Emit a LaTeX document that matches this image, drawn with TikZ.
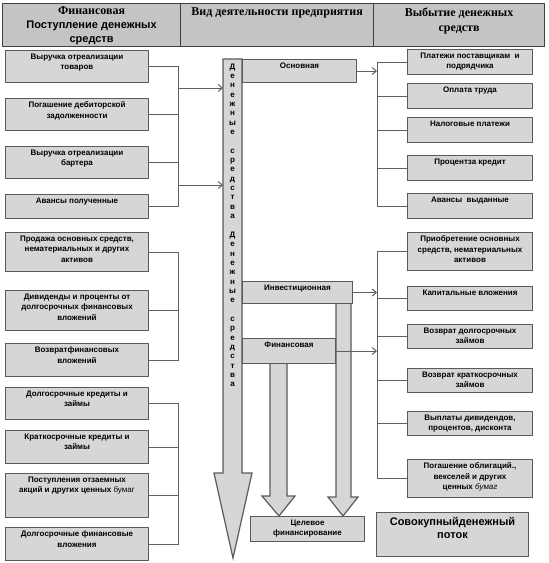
\documentclass[tikz,border=0pt]{standalone}
\usepackage{fontspec}
\setmainfont{Liberation Sans}
\newfontfamily\hdserif{Liberation Serif}
\usetikzlibrary{arrows.meta}
\definecolor{boxfill}{HTML}{D6D6D6}
\definecolor{headfill}{HTML}{C4C4C4}
\definecolor{boxline}{HTML}{5A5A5A}
\definecolor{linkgray}{HTML}{606060}
\newcommand{\boxtext}[3]{\parbox[c][#2][t]{#1}{\centering\vspace*{3.5pt}#3\par}}
\tikzset{flow box/.style={draw=boxline,fill=boxfill,line width=1pt,inner sep=0pt,anchor=north west,font=\fontsize{8}{10.3}\selectfont\bfseries},head cell/.style={flow box,fill=headfill,draw=black!75,line width=1.2pt,font=\fontsize{12}{14.5}\selectfont\bfseries},total box/.style={flow box,font=\fontsize{11}{13}\selectfont\bfseries},link/.style={draw=linkgray,line width=1pt},feed/.style={link,-{Straight Barb[length=4pt,width=7pt]}},band/.style={draw=boxline,fill=boxfill,line width=1.2pt,line join=miter},letter/.style={anchor=base,inner sep=0pt,font=\fontsize{8}{8}\selectfont\bfseries}}

\begin{document}
\begin{tikzpicture}[x=1pt,y=-1pt]
 \useasboundingbox (0,0) rectangle (549,563);

 % header row
 \node[head cell] (hin) at (2,3) {\boxtext{178pt}{43pt}{{\hdserif Финансовая}\\{\fontsize{11}{13.5}\selectfont Поступление денежных\\средств}}};
 \node[head cell] (hkind) at (180,3) {\boxtext{193pt}{43pt}{\vspace*{1pt}\hdserif Вид деятельности предприятия}};
 \node[head cell] (hout) at (373,3) {\boxtext{171pt}{43pt}{\vspace*{1pt}\hdserif Выбытие денежных\\средств}};

 % wide arrows of the middle column
 \draw[band] (223,59) -- (242,59) -- (242,473) -- (252,473) -- (233,558) -- (214,473) -- (223,473) -- cycle;
 \draw[band] (336,303) -- (351,303) -- (351,497) -- (358,497) -- (343,516) -- (328,497) -- (336,497) -- cycle;
 \draw[band] (270,363) -- (287,363) -- (287,496) -- (295,496) -- (279,516) -- (262,496) -- (270,496) -- cycle;
 \foreach \ch [count=\i] in {Д,е,н,е,ж,н,ы,е,{},с,р,е,д,с,т,в,а,{},Д,е,н,е,ж,н,ы,е,{},с,р,е,д,с,т,в,а}
  \node[letter] (ch\i) at (232.5,{69+9.35*(\i-1)}) {\ch};

 % kinds of activity
 \node[flow box] (osn) at (242,59) {\boxtext{114pt}{23pt}{Основная}};
 \node[flow box] (inv) at (242,281) {\boxtext{110pt}{22pt}{Инвестиционная}};
 \node[flow box] (fin) at (242,338) {\boxtext{93pt}{25pt}{Финансовая}};
 \node[flow box] (tgt) at (250,516) {\boxtext{114pt}{25pt}{Целевое\\финансирование}};
 \node[total box] (tot) at (376,512) {\boxtext{152pt}{44pt}{\vspace*{1pt}Совокупныйденежный\\поток}};

 % inflows
 \node[flow box] (l1) at (5,50) {\boxtext{143pt}{32pt}{Выручка отреализации\\товаров}};
 \node[flow box] (l2) at (5,98) {\boxtext{143pt}{32pt}{Погашение дебиторской\\задолженности}};
 \node[flow box] (l3) at (5,146) {\boxtext{143pt}{32pt}{Выручка отреализации\\бартера}};
 \node[flow box] (l4) at (5,194) {\boxtext{143pt}{24pt}{Авансы полученные}};
 \node[flow box] (l5) at (5,232) {\boxtext{143pt}{39pt}{Продажа основных средств,\\нематериальных и других\\активов}};
 \node[flow box] (l6) at (5,290) {\boxtext{143pt}{40pt}{Дивиденды и проценты от\\долгосрочных финансовых\\вложений}};
 \node[flow box] (l7) at (5,343) {\boxtext{143pt}{33pt}{Возвратфинансовых\\вложений}};
 \node[flow box] (l8) at (5,387) {\boxtext{143pt}{32pt}{Долгосрочные кредиты и\\займы}};
 \node[flow box] (l9) at (5,430) {\boxtext{143pt}{33pt}{Краткосрочные кредиты и\\займы}};
 \node[flow box] (l10) at (5,473) {\boxtext{143pt}{44pt}{Поступления отзаемных\\акций и других ценных {\mdseries бумаг}}};
 \node[flow box] (l11) at (5,527) {\boxtext{143pt}{33pt}{Долгосрочные финансовые\\вложения}};

 % outflows
 \node[flow box] (r1) at (407,49) {\boxtext{125pt}{25pt}{Платежи поставщикам~ и\\подрядчика}};
 \node[flow box] (r2) at (407,83) {\boxtext{125pt}{25pt}{Оплата труда}};
 \node[flow box] (r3) at (407,117) {\boxtext{125pt}{25pt}{Налоговые платежи}};
 \node[flow box] (r4) at (407,155) {\boxtext{125pt}{25pt}{Процентза кредит}};
 \node[flow box] (r5) at (407,193) {\boxtext{125pt}{25pt}{Авансы~ выданные}};
 \node[flow box] (r6) at (407,232) {\boxtext{125pt}{38pt}{Приобретение основных\\средств, нематериальных\\активов}};
 \node[flow box] (r7) at (407,286) {\boxtext{125pt}{24pt}{Капитальные вложения}};
 \node[flow box] (r8) at (407,324) {\boxtext{125pt}{24pt}{Возврат долгосрочных\\займов}};
 \node[flow box] (r9) at (407,368) {\boxtext{125pt}{24pt}{Возврат краткосрочных\\займов}};
 \node[flow box] (r10) at (407,411) {\boxtext{125pt}{24pt}{Выплаты дивидендов,\\процентов, дисконта}};
 \node[flow box] (r11) at (407,459) {\boxtext{125pt}{38pt}{Погашение облигаций.,\\векселей и других\\ценных {\mdseries\itshape бумаг}}};

 % brackets and arrows
 \coordinate (lb) at (178.5,0);
 \coordinate (rb) at (377,0);
 \coordinate (cw) at (223,0);
 \coordinate (in1) at (178.5,88);
 \coordinate (in2) at (178.5,185);
 \foreach \n in {l1,l2,l3,l4,l5,l6,l7,l8,l9,l10,l11} {\draw[link] (\n.east) -- (\n.east -| lb);}
 \foreach \a/\b in {l1/l4,l5/l7,l8/l11} {\draw[link] (\a.east -| lb) -- (\b.east -| lb);}
 \draw[feed] (in1) -- (in1 -| cw);
 \draw[feed] (in2) -- (in2 -| cw);
 \foreach \n in {r1,r2,r3,r4,r5,r6,r7,r8,r9,r10,r11} {\draw[link] (\n.west) -- (\n.west -| rb);}
 \foreach \a/\b in {r1/r5,r6/r11} {\draw[link] (\a.west -| rb) -- (\b.west -| rb);}
 \foreach \n in {osn,inv,fin} {\draw[feed] (\n.east) -- (\n.east -| rb);}
\end{tikzpicture}
\end{document}
